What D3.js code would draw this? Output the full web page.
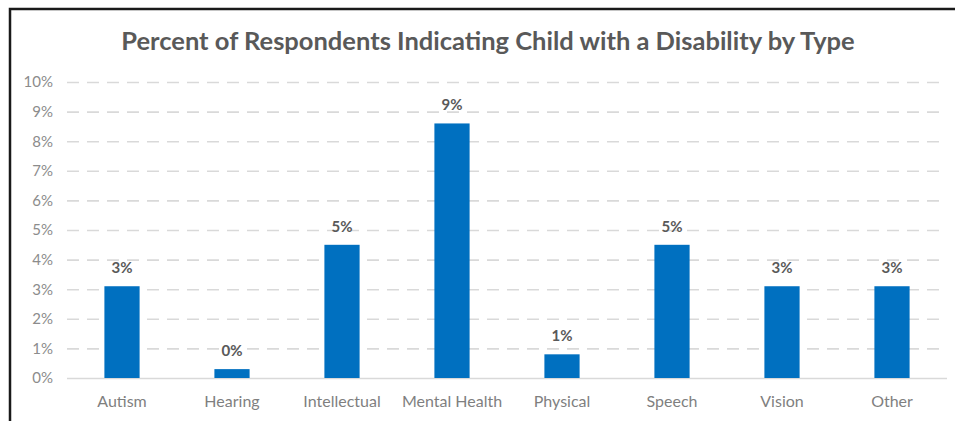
<!DOCTYPE html>
<html>
<head>
<meta charset="utf-8">
<script src="https://cdn.jsdelivr.net/npm/d3@7"></script>
<style>
  html, body { margin: 0; padding: 0; background: #fff; }
  svg { display: block; }
  text { font-family: Lato, "Open Sans", sans-serif; }
</style>
</head>
<body>
<svg id="chart" width="955" height="421"></svg>
<script>
// Disability types and the share of respondents (percent) for each
const categories = ["Autism", "Hearing", "Intellectual", "Mental Health", "Physical", "Speech", "Vision", "Other"];
const percentValues = [3.1, 0.3, 4.5, 8.6, 0.8, 4.5, 3.1, 3.1];
const yTicks = [0, 1, 2, 3, 4, 5, 6, 7, 8, 9, 10];
const chartTitle = "Percent of Respondents Indicating Child with a Disability by Type";

const W = 955, H = 421;
const margin = { left: 67, right: 8, top: 82, bottom: 43 };
const svg = d3.select("#chart");

// Outer frame
svg.append("rect")
  .attr("x", 10).attr("y", 9)
  .attr("width", W + 20).attr("height", H + 20)
  .attr("fill", "none").attr("stroke", "#1a1a1a").attr("stroke-width", 2.5);

const x = d3.scaleBand()
  .domain(categories)
  .range([margin.left, W - margin.right])
  .paddingInner(0.68).paddingOuter(0.34);

const y = d3.scaleLinear()
  .domain([0, 10])
  .range([H - margin.bottom, margin.top]);

// Title
svg.append("text")
  .attr("x", 488).attr("y", 50)
  .attr("text-anchor", "middle")
  .attr("font-size", 25.5).attr("font-weight", 700)
  .attr("fill", "#595959")
  .text(chartTitle);

// Dashed gridlines and y tick labels
const yAxis = d3.axisLeft(y)
  .tickValues(yTicks)
  .tickSize(-(W - margin.right - margin.left))
  .tickPadding(14)
  .tickFormat(d => d + "%");

const gy = svg.append("g")
  .attr("transform", `translate(${margin.left},0)`)
  .call(yAxis);
gy.select(".domain").remove();
gy.selectAll(".tick line")
  .attr("stroke", "#d9d9d9").attr("stroke-width", 1.6)
  .attr("stroke-dasharray", "12,8")
  .filter(d => d === 0).attr("stroke-dasharray", null);
gy.selectAll(".tick text")
  .attr("fill", "#8c8c8c").attr("font-size", 15)
  .style("font-family", "Lato, 'Open Sans', sans-serif");

// Bars
svg.append("g").selectAll("rect")
  .data(categories)
  .join("rect")
  .attr("x", d => x(d))
  .attr("width", x.bandwidth())
  .attr("y", (d, i) => y(percentValues[i]))
  .attr("height", (d, i) => y(0) - y(percentValues[i]))
  .attr("fill", "#0070c0");

// Value labels (rounded percent)
svg.append("g").selectAll("text")
  .data(categories)
  .join("text")
  .attr("x", d => x(d) + x.bandwidth() / 2)
  .attr("y", (d, i) => y(percentValues[i]) - 13)
  .attr("text-anchor", "middle")
  .attr("font-size", 15).attr("font-weight", 700)
  .attr("fill", "#595959")
  .text((d, i) => Math.round(percentValues[i]) + "%");

// Category axis
const xAxis = d3.axisBottom(x).tickSize(0).tickPadding(18);
const gx = svg.append("g")
  .attr("transform", `translate(0,${y(0)})`)
  .call(xAxis);
gx.select(".domain").remove();
gx.selectAll(".tick text")
  .attr("fill", "#7f7f7f").attr("font-size", 16)
  .style("font-family", "Lato, 'Open Sans', sans-serif");
</script>
</body>
</html>
